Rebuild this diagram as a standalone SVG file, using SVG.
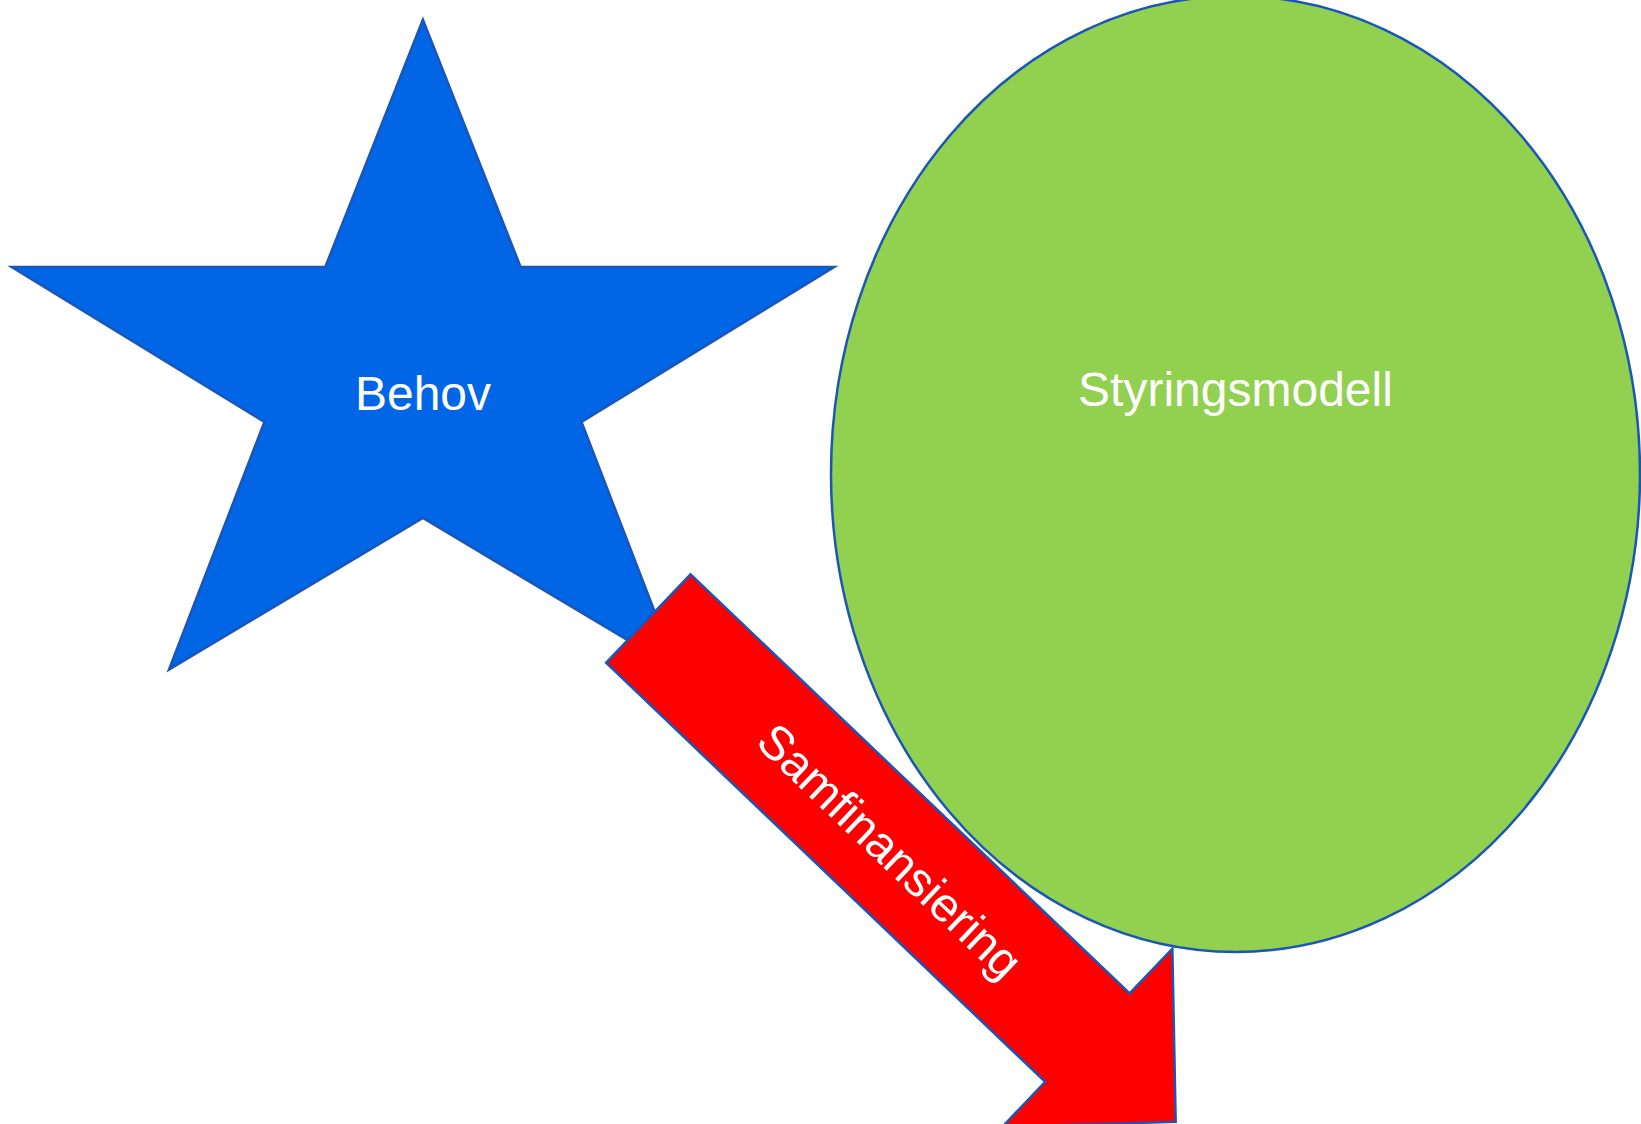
<svg xmlns="http://www.w3.org/2000/svg" width="1641" height="1124" viewBox="0 0 1641 1124">
  <style>
    .shape { stroke: #1a55b8; stroke-width: 2.5; stroke-linejoin: miter; }
    .label { font-family: "Liberation Sans", Arial, sans-serif; font-size: 48px; fill: #ffffff; text-anchor: middle; }
  </style>
  <rect width="1641" height="1124" fill="#ffffff"/>

  <!-- Star: Behov -->
  <g id="behov">
    <polygon class="shape" fill="#0066e6"
      points="422.9,19.6 520.6,267 834.2,267 581.5,422 677,669.5 422.9,518 169,669.5 264.4,422 11.7,267 325.3,267"/>
    <text class="label" x="423" y="410">Behov</text>
  </g>

  <!-- Ellipse: Styringsmodell -->
  <g id="styringsmodell">
    <ellipse class="shape" fill="#92d050" cx="1235.5" cy="474" rx="404.5" ry="478"/>
    <text class="label" x="1235.5" y="406">Styringsmodell</text>
  </g>

  <!-- Block arrow: Samfinansiering -->
  <g id="connectors">
    <g id="samfinansiering" transform="translate(690.6,574.3) rotate(43.67)">
      <polygon class="shape" fill="#ff0000"
        points="0,0 607,0 607,-61.8 729,61.15 607,184.1 607,122.3 0,122.3"/>
      <text class="label" x="335" y="79">Samfinansiering</text>
    </g>
  </g>
</svg>
